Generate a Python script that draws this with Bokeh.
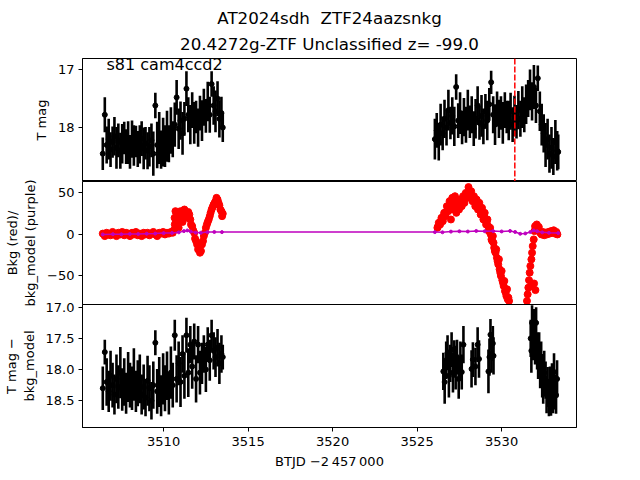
from bokeh.plotting import figure
from bokeh.models import (Range1d, FixedTicker, CustomJSTickFormatter, Span, Label,
                          Title, ColumnDataSource)
from bokeh.layouts import column
from bokeh.embed import file_html
from bokeh.resources import INLINE

FONT = "DejaVu Sans"

# ---------------- data ----------------
# Panel 1: T mag, segment 1
t1a = [3506.40, 3506.52, 3506.63, 3506.75, 3506.86, 3506.98, 3507.09, 3507.21, 3507.32, 3507.44,
       3507.55, 3507.67, 3507.78, 3507.90, 3508.01, 3508.13, 3508.24, 3508.36, 3508.47, 3508.59,
       3508.70, 3508.82, 3508.93, 3509.05, 3509.16, 3509.28, 3509.39, 3509.51, 3509.62, 3509.74,
       3509.85, 3509.97, 3510.08, 3510.20, 3510.31, 3510.43, 3510.54, 3510.66, 3510.77, 3510.89,
       3511.00, 3511.12, 3511.23, 3511.35, 3511.46, 3511.58, 3511.69, 3511.81, 3511.92, 3512.04,
       3512.15, 3512.27, 3512.38, 3512.50, 3512.61, 3512.73, 3512.84, 3512.96, 3513.07, 3513.19,
       3513.30, 3513.42, 3513.50]
m1a = [18.45, 17.78, 18.30, 18.20, 18.38, 18.25, 18.15, 18.35, 18.22, 18.40,
       18.28, 18.18, 18.33, 18.26, 18.42, 18.20, 18.31, 18.24, 18.37, 18.29,
       18.19, 18.36, 18.27, 18.40, 18.33, 18.22, 18.45, 17.62, 18.30, 18.18,
       18.38, 18.25, 18.32, 18.15, 18.28, 18.05, 18.20, 17.95, 17.48, 18.02,
       17.88, 18.10, 17.85, 17.33, 17.78, 17.95, 17.70, 17.92, 17.82, 18.00,
       17.75, 17.88, 17.65, 17.80, 17.55, 17.78, 17.25, 17.62, 17.72, 17.50,
       17.85, 17.75, 18.00]
e1a = [0.28, 0.30, 0.32, 0.35, 0.30, 0.27, 0.33, 0.36, 0.29, 0.31,
       0.34, 0.28, 0.30, 0.37, 0.29, 0.32, 0.35, 0.27, 0.31, 0.33,
       0.30, 0.36, 0.28, 0.32, 0.34, 0.29, 0.38, 0.22, 0.40, 0.45,
       0.33, 0.42, 0.36, 0.44, 0.32, 0.40, 0.31, 0.38, 0.30, 0.35,
       0.33, 0.37, 0.29, 0.30, 0.30, 0.34, 0.31, 0.36, 0.28, 0.33,
       0.30, 0.35, 0.32, 0.29, 0.34, 0.31, 0.22, 0.33, 0.36, 0.30,
       0.32, 0.28, 0.25]

# Panel 1: T mag, segment 2
t1b = [3526.05, 3526.16, 3526.28, 3526.39, 3526.51, 3526.62, 3526.74, 3526.85, 3526.97, 3527.08,
       3527.20, 3527.31, 3527.43, 3527.54, 3527.66, 3527.77, 3527.89, 3528.00, 3528.12, 3528.23,
       3528.35, 3528.46, 3528.58, 3528.69, 3528.81, 3528.92, 3529.04, 3529.15, 3529.27, 3529.38,
       3529.50, 3529.61, 3529.73, 3529.84, 3529.96, 3530.07, 3530.19, 3530.30, 3530.42, 3530.53,
       3530.65, 3530.76, 3530.88, 3530.99, 3531.11, 3531.22, 3531.34, 3531.45, 3531.57, 3531.68,
       3531.80, 3531.91, 3532.03, 3532.14, 3532.26, 3532.37, 3532.49, 3532.60, 3532.72, 3532.83,
       3532.95, 3533.06, 3533.18, 3533.29, 3533.35]
m1b = [18.20, 18.05, 18.25, 17.95, 18.10, 17.85, 18.00, 17.70, 17.92, 17.80,
       17.98, 17.30, 17.88, 17.75, 18.00, 17.82, 17.95, 17.70, 17.90, 17.78,
       18.02, 17.85, 17.62, 17.92, 17.80, 17.98, 17.72, 17.88, 17.60, 17.22,
       17.78, 17.95, 17.68, 17.85, 17.75, 17.92, 17.70, 17.82, 17.88, 17.72,
       17.95, 17.80, 17.90, 17.70, 17.85, 17.65, 17.78, 17.60, 17.50, 17.35,
       17.55, 17.30, 17.62, 17.15, 17.72, 17.95, 18.10, 18.30, 18.20, 18.45,
       18.35, 18.50, 18.25, 18.40, 18.42]
e1b = [0.35, 0.30, 0.32, 0.36, 0.29, 0.33, 0.31, 0.35, 0.28, 0.32,
       0.34, 0.22, 0.30, 0.36, 0.29, 0.33, 0.31, 0.35, 0.28, 0.32,
       0.30, 0.34, 0.33, 0.29, 0.36, 0.31, 0.30, 0.34, 0.28, 0.20,
       0.32, 0.35, 0.30, 0.33, 0.29, 0.36, 0.31, 0.28, 0.34, 0.32,
       0.30, 0.35, 0.29, 0.33, 0.31, 0.36, 0.30, 0.34, 0.32, 0.35,
       0.33, 0.38, 0.30, 0.22, 0.34, 0.36, 0.33, 0.38, 0.35, 0.33,
       0.36, 0.32, 0.38, 0.34, 0.30]

# Panel 2: background (red), segment 1 uses the t1a times
v2a = [1, -2, 2, 0, -1, 3, 1, -2, 2, 0,
       3, -1, 2, 1, -2, 2, 0, 3, -1, 1,
       -2, 2, 0, 2, -1, 1, 3, 0, -2, 2,
       1, 3, 0, 2, 1, 3, 2, 12, 25, 8,
       28, 15, 30, 24, 27, 18, 10, 2, -8, -18,
       -22, -12, -2, 8, 15, 22, 30, 36, 40, 42,
       35, 28, 25]
# extra background samples inside the first hump
t2d = [3510.60, 3510.65, 3510.70, 3510.72, 3510.83, 3510.95, 3511.06, 3511.18, 3511.29, 3511.40,
       3511.52, 3511.62, 3511.75, 3511.86, 3511.98, 3512.10, 3512.21, 3512.33, 3512.44, 3512.56,
       3512.67, 3512.78, 3512.90, 3513.02, 3513.13, 3513.25, 3513.36, 3513.46]
v2d = [5, 20, 28, 15, 22, 18, 25, 22, 26, 20,
       24, 12, 5, -5, -12, -18, -20, -8, 2, 12,
       18, 26, 33, 38, 44, 38, 30, 22]
# Panel 2: background (red), segment 2
t2b = [3526.20, 3526.28, 3526.36, 3526.44, 3526.52, 3526.60, 3526.68, 3526.76, 3526.84, 3526.92,
       3527.00, 3527.08, 3527.16, 3527.24, 3527.32, 3527.40, 3527.48, 3527.56, 3527.64, 3527.72,
       3527.80, 3527.88, 3527.96, 3528.04, 3528.12, 3528.20, 3528.28, 3528.36, 3528.44, 3528.52,
       3528.60, 3528.68, 3528.76, 3528.84, 3528.92, 3529.00, 3529.08, 3529.16, 3529.24, 3529.32,
       3529.40, 3529.48, 3529.56, 3529.64, 3529.72, 3529.80, 3529.88, 3529.96, 3530.04, 3530.12,
       3530.20, 3530.28, 3530.36, 3530.44,
       3531.50, 3531.54, 3531.58, 3531.62, 3531.66, 3531.70, 3531.74, 3531.76, 3531.80, 3531.84,
       3531.90, 3531.92, 3531.94, 3531.98, 3532.00, 3532.02, 3532.08, 3532.14, 3532.20, 3532.28,
       3532.36, 3532.44, 3532.52, 3532.60, 3532.68, 3532.76, 3532.84, 3532.92, 3533.00, 3533.08,
       3533.16, 3533.24, 3533.30]
v2b = [8, 14, 12, 20, 16, 26, 22, 34, 28, 40,
       18, 44, 30, 46, 26, 38, 30, 42, 34, 46,
       38, 50, 44, 57, 48, 52, 40, 46, 34, 42,
       30, 38, 24, 32, 18, 26, 12, 18, 4, 8,
       -6, -2, -16, -22, -28, -36, -42, -50, -55, -62,
       -68, -74, -78, -80,
       -80, -72, -64, -55, -46, -38, -62, -30, -22, -14,
       -6, -59, 4, 10, -67, 8, 12, 6, 9, 2,
       0, 3, -1, 2, 0, 3, 1, 4, 2, 5,
       1, 3, 0]
# extra background samples filling the second hump and its descent
t2c = [3526.24, 3526.32, 3526.40, 3526.48, 3526.56, 3526.64, 3526.72, 3526.80, 3526.88, 3526.96,
       3527.04, 3527.12, 3527.20, 3527.28, 3527.36, 3527.44, 3527.52, 3527.60, 3527.68, 3527.76,
       3527.84, 3527.92, 3528.00, 3528.08, 3528.16, 3528.24, 3528.32, 3528.40, 3528.48, 3528.56,
       3528.64, 3528.72, 3528.80, 3528.88, 3528.96, 3529.04, 3529.12, 3529.20, 3529.28, 3529.36,
       3529.44, 3529.52, 3529.60, 3529.68, 3529.76, 3529.84, 3529.92, 3530.00, 3530.08, 3530.16,
       3530.24, 3530.32, 3530.40]
v2c = [10, 12, 16, 19, 22, 24, 27, 30, 33, 30,
       32, 36, 38, 36, 33, 34, 36, 38, 40, 42,
       43, 46, 48, 50, 44, 46, 42, 40, 37, 36,
       33, 30, 28, 24, 22, 18, 14, 10, 6, 0,
       -8, -10, -20, -18, -32, -30, -46, -44, -58, -56,
       -70, -66, -76]
# Panel 2: bkg_model (purple)
tpm = [3506.40, 3507.00, 3507.50, 3508.00, 3508.50, 3509.00, 3509.50, 3510.00, 3510.50, 3510.90,
       3511.20, 3511.40, 3511.60, 3511.90, 3512.20, 3512.60, 3513.00, 3513.45,
       3526.05, 3526.50, 3527.00, 3527.50, 3528.00, 3528.50, 3529.00, 3529.50, 3530.00, 3530.50,
       3530.80, 3531.10, 3531.40, 3531.70, 3531.90, 3532.10, 3532.40, 3532.80, 3533.35]
vpm = [0.0, 0.3, 0.2, 0.6, 0.5, 0.9, 1.0, 1.6, 1.8, 2.5,
       4.0, 4.8, 3.5, 2.2, 2.0, 2.8, 3.0, 2.8,
       2.8, 2.6, 3.4, 3.8, 3.5, 4.2, 3.9, 4.0, 3.6, 4.2,
       3.0, 0.8, 1.2, 3.0, 4.8, 3.8, 2.5, 2.0, 1.6]

# Panel 3: T mag - bkg_model, segment 1 uses the t1a times
m3a = [18.30, 17.72, 18.20, 18.35, 18.10, 18.25, 18.40, 18.15, 18.28, 18.05,
       18.32, 18.20, 18.38, 18.12, 18.25, 18.30, 18.08, 18.35, 18.22, 18.15,
       18.40, 18.28, 18.45, 18.18, 18.30, 18.50, 18.25, 17.57, 18.35, 18.20,
       18.42, 18.15, 18.30, 18.10, 18.38, 18.05, 18.25, 17.45, 18.15, 17.90,
       18.20, 17.75, 18.10, 17.45, 18.05, 17.60, 17.95, 17.55, 18.15, 17.60,
       18.05, 17.90, 17.75, 18.00, 17.60, 17.85, 17.45, 17.70, 17.80, 17.65,
       17.90, 17.75, 17.80]
e3a = [0.35, 0.20, 0.38, 0.33, 0.40, 0.36, 0.32, 0.39, 0.35, 0.41,
       0.34, 0.38, 0.33, 0.40, 0.36, 0.35, 0.42, 0.33, 0.37, 0.39,
       0.32, 0.36, 0.30, 0.40, 0.37, 0.30, 0.38, 0.20, 0.36, 0.40,
       0.33, 0.41, 0.37, 0.39, 0.34, 0.42, 0.36, 0.25, 0.38, 0.35,
       0.40, 0.30, 0.37, 0.28, 0.39, 0.30, 0.36, 0.29, 0.38, 0.30,
       0.35, 0.33, 0.30, 0.36, 0.28, 0.33, 0.25, 0.30, 0.32, 0.30,
       0.33, 0.30, 0.20]
# Panel 3: segment 2
t3b = [3526.55, 3526.63, 3526.72, 3526.80, 3526.88, 3526.96, 3527.04, 3527.12, 3527.20, 3527.28,
       3527.36, 3527.46, 3527.56, 3527.64, 3527.74,
       3528.22, 3528.30, 3528.45, 3528.58, 3528.66,
       3529.22, 3529.28, 3529.34, 3529.40, 3529.48, 3529.52,
       3531.72, 3531.76, 3531.80, 3531.86, 3531.92, 3531.98, 3532.04, 3532.10, 3532.16, 3532.22,
       3532.28, 3532.34, 3532.40, 3532.46, 3532.52, 3532.60, 3532.66, 3532.72, 3532.80, 3532.86,
       3532.92, 3532.98, 3533.04, 3533.10, 3533.16, 3533.22, 3533.28]
m3b = [18.03, 18.20, 17.85, 17.73, 18.10, 17.90, 17.68, 18.05, 17.83, 17.97,
       17.80, 18.15, 17.85, 18.04, 17.60,
       17.99, 17.84, 17.95, 17.60, 17.83,
       18.03, 17.80, 17.44, 17.75, 17.58, 17.78,
       17.50, 17.70, 17.25, 17.55, 17.28, 17.62, 17.25, 17.70, 17.85, 17.75,
       18.00, 17.85, 18.10, 18.25, 18.05, 18.17, 18.40, 18.28, 18.45, 18.30,
       18.44, 18.20, 18.35, 18.04, 18.36, 18.41, 18.15]
e3b = [0.30, 0.35, 0.30, 0.28, 0.35, 0.30, 0.28, 0.32, 0.30, 0.35,
       0.28, 0.32, 0.30, 0.28, 0.30,
       0.30, 0.28, 0.30, 0.28, 0.30,
       0.35, 0.30, 0.25, 0.30, 0.28, 0.30,
       0.30, 0.35, 0.28, 0.30, 0.25, 0.30, 0.25, 0.30, 0.30, 0.35,
       0.30, 0.30, 0.35, 0.30, 0.35, 0.30, 0.30, 0.32, 0.30, 0.35,
       0.30, 0.30, 0.35, 0.30, 0.28, 0.30, 0.30]

marker_time = 3530.78
x_ticks = [3510, 3515, 3520, 3525, 3530]

# ---------------- helpers ----------------
def errsrc(t, m, e):
    n = min(len(t), len(m), len(e))
    t, m, e = t[:n], m[:n], e[:n]
    return ColumnDataSource(dict(t=t, m=m,
                                 lo=[a - b for a, b in zip(m, e)],
                                 hi=[a + b for a, b in zip(m, e)]))

def pairs(t, v):
    n = min(len(t), len(v))
    return t[:n], v[:n]

minus_fmt = CustomJSTickFormatter(code="return String(tick).replace('-', '\u2212');")
dec_fmt = CustomJSTickFormatter(code="return tick.toFixed(1);")

xr = Range1d(3505.2, 3534.43)

def style(p, ylabel, label_size="13px"):
    p.outline_line_color = "black"
    p.outline_line_width = 1
    p.outline_line_alpha = 1
    p.xgrid.grid_line_color = None
    p.ygrid.grid_line_color = None
    p.background_fill_color = "white"
    for ax in p.yaxis:
        ax.axis_label = ylabel
        ax.axis_label_text_font = FONT
        ax.axis_label_text_font_size = label_size
        ax.axis_label_text_font_style = "normal"
        ax.axis_label_text_color = "black"
        ax.axis_label_standoff = 6
        ax.major_label_text_font = FONT
        ax.major_label_text_font_size = "13px"
        ax.major_label_text_color = "black"
        ax.major_tick_out = 4
        ax.major_tick_in = 0
        ax.minor_tick_out = 0
        ax.minor_tick_in = 0
        ax.major_label_standoff = 4
        ax.axis_line_color = "black"
        ax.major_tick_line_color = "black"
    for ax in p.xaxis:
        ax.major_label_text_font = FONT
        ax.major_label_text_font_size = "13px"
        ax.major_label_text_color = "black"
        ax.major_tick_out = 4
        ax.major_tick_in = 0
        ax.minor_tick_out = 0
        ax.minor_tick_in = 0
        ax.axis_label_text_font = FONT
        ax.axis_label_text_font_size = "13px"
        ax.axis_label_text_font_style = "normal"
        ax.axis_label_text_color = "black"
        ax.axis_line_color = "black"
        ax.major_tick_line_color = "black"
        ax.ticker = FixedTicker(ticks=x_ticks)

common = dict(width=640, x_range=xr, output_backend="svg", toolbar_location=None,
              min_border_left=80, min_border_right=64)

# ---------------- panel 1 ----------------
p1 = figure(height=181, y_range=Range1d(18.93, 16.81), min_border_top=58,
            min_border_bottom=0, **common)
style(p1, "T mag")
p1.border_fill_color = "white"
p1.xaxis.visible = False
p1.yaxis.ticker = FixedTicker(ticks=[17, 18])
for t, m, e in ((t1a, m1a, e1a), (t1b, m1b, e1b)):
    s = errsrc(t, m, e)
    p1.segment(x0="t", y0="lo", x1="t", y1="hi", source=s, line_color="black", line_width=2.6)
    p1.scatter(x="t", y="m", source=s, size=5, color="black")
p1.add_layout(Span(location=marker_time, dimension="height", line_color="red",
                   line_dash="6 2", line_width=1.5))
p1.add_layout(Label(x=3506.62, y=16.92, text="s81 cam4ccd2", text_font=FONT,
                    text_font_size="16px", text_align="left", text_baseline="middle",
                    text_color="black"))
p1.add_layout(Title(text="20.4272g-ZTF Unclassified z= -99.0", align="center",
                    text_font=FONT, text_font_size="16.7px", text_font_style="normal",
                    text_color="black", standoff=10), "above")
p1.add_layout(Title(text="AT2024sdh \u00a0ZTF24aazsnkg", align="center",
                    text_font=FONT, text_font_size="16.7px", text_font_style="normal",
                    text_color="black", standoff=-3), "above")

# ---------------- panel 2 ----------------
p2 = figure(height=139, y_range=Range1d(-84.3, 63.7), min_border_top=6,
            min_border_bottom=10, margin=(-6, 0, 0, 0), **common)
style(p2, "Bkg (red)/\nbkg_model (purple)")
p2.border_fill_color = None
p2.xaxis.visible = False
p2.yaxis.ticker = FixedTicker(ticks=[-50, 0, 50])
p2.yaxis.formatter = minus_fmt
for t, v in ((t1a, v2a), (t2d, v2d), (t2b, v2b), (t2c, v2c)):
    tt, vv = pairs(t, v)
    p2.scatter(x=tt, y=vv, size=7, color="red")
p2.line(x=tpm, y=vpm, line_color="#bf00bf", line_width=1.5)
p2.scatter(x=tpm, y=vpm, size=3, color="#bf00bf")

# ---------------- panel 3 ----------------
p3 = figure(height=184, y_range=Range1d(18.93, 16.956), min_border_top=8,
            min_border_bottom=53, margin=(-18, 0, 0, 0), **common)
style(p3, "T mag \u2212\nbkg_model")
p3.border_fill_color = None
p3.yaxis.ticker = FixedTicker(ticks=[17.0, 17.5, 18.0, 18.5])
p3.yaxis.formatter = dec_fmt
p3.xaxis.axis_label = "BTJD \u22122\u2009457\u2009000"
for t, m, e in ((t1a, m3a, e3a), (t3b, m3b, e3b)):
    s = errsrc(t, m, e)
    p3.segment(x0="t", y0="lo", x1="t", y1="hi", source=s, line_color="black", line_width=2.6)
    p3.scatter(x="t", y="m", source=s, size=5, color="black")

layout = column(p1, p2, p3, spacing=0)
open("out.html", "w").write(file_html(layout, INLINE))
